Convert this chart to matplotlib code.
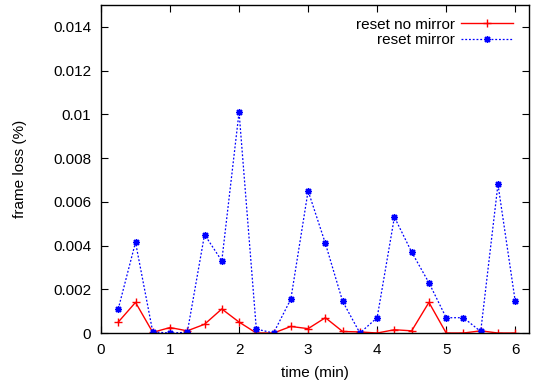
import matplotlib
matplotlib.use('Agg')
import matplotlib.pyplot as plt

# data (time in minutes, frame loss in %)
time_min = [0.25, 0.5, 0.75, 1.0, 1.25, 1.5, 1.75, 2.0, 2.25, 2.5, 2.75, 3.0,
            3.25, 3.5, 3.75, 4.0, 4.25, 4.5, 4.75, 5.0, 5.25, 5.5, 5.75, 6.0]
no_mirror = [0.0005, 0.0014, 0.00003, 0.00025, 0.0001, 0.0004, 0.0011, 0.0005,
             0.0, 0.0, 0.0003, 0.0002, 0.0007, 0.00007, 0.00005, 0.0,
             0.00015, 0.0001, 0.0014, 0.0, 0.0, 0.0001, 0.0, 0.0]
mirror = [0.0011, 0.00415, 0.00005, 0.0, 0.00003, 0.0045, 0.0033, 0.0101,
          0.00018, 0.0, 0.00155, 0.0065, 0.0041, 0.00145, 0.0, 0.0007,
          0.0053, 0.0037, 0.0023, 0.0007, 0.0007, 0.00007, 0.0068, 0.00145]

xticks = [0, 1, 2, 3, 4, 5, 6]
yticks = [0, 0.002, 0.004, 0.006, 0.008, 0.01, 0.012, 0.014]
ytick_labels = ['0', '0.002', '0.004', '0.006', '0.008', '0.01', '0.012', '0.014']

plt.rcParams['font.family'] = ['Liberation Sans', 'DejaVu Sans']
plt.rcParams['font.size'] = 11

fig = plt.figure(figsize=(5.36, 3.83), dpi=100)
ax = fig.add_axes([0.1884, 0.1305, 0.7986, 0.8565])

ax.plot(time_min, no_mirror, color='red', linewidth=1, marker='+',
        markersize=6, markeredgewidth=1, label='reset no mirror')
ax.plot(time_min, mirror, color='blue', linewidth=0.9, linestyle=(0, (1.5, 1.5)),
        marker=(8, 2, 0), markersize=5, markeredgewidth=1, label='reset mirror')

ax.set_xlim(0, 6.2)
ax.set_ylim(0, 0.015)
ax.set_xticks(xticks)
ax.set_xticklabels([str(t) for t in xticks])
ax.set_yticks(yticks)
ax.set_yticklabels(ytick_labels)

ax.tick_params(direction='in', length=5, width=0.8, top=True, right=True)
ax.tick_params(axis='x', pad=7)
ax.tick_params(axis='y', pad=7)
for s in ax.spines.values():
    s.set_linewidth(1)

ax.set_xlabel('time (min)', labelpad=7)
ax.set_ylabel('frame loss (%)', labelpad=19)

ax.legend(loc='upper right', bbox_to_anchor=(0.98, 0.985), frameon=False,
          markerfirst=False, handlelength=3.4, handletextpad=0.4,
          labelspacing=0.1, borderpad=0, fontsize=11)

fig.savefig('out.png', dpi=100)
